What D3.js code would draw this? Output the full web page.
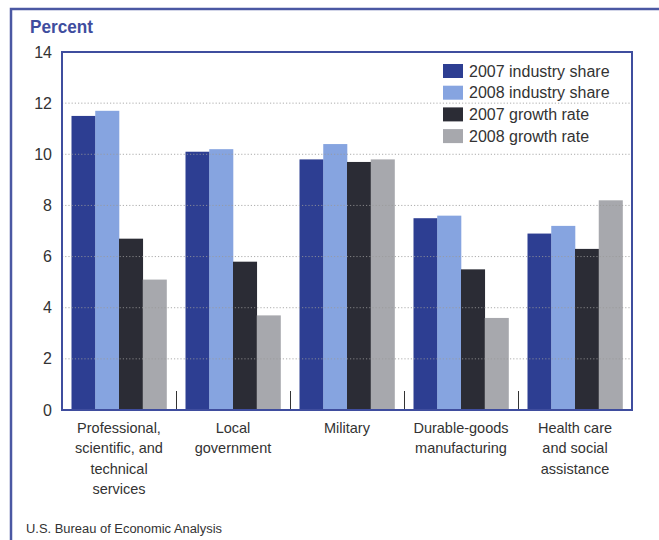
<!DOCTYPE html>
<html><head><meta charset="utf-8">
<script src="https://cdn.jsdelivr.net/npm/d3@7"></script>
<style>body{margin:0;background:#fff}svg{display:block}text{font-family:"Liberation Sans",Arial,sans-serif}</style>
</head><body>
<svg id="c" width="659" height="540"></svg>
<script>
const categories = ["Professional, scientific, and technical services","Local government","Military","Durable-goods manufacturing","Health care and social assistance"];
const categoryLines = [["Professional,","scientific, and","technical","services"],["Local","government"],["Military"],["Durable-goods","manufacturing"],["Health care","and social","assistance"]];
const seriesNames = ["2007 industry share","2008 industry share","2007 growth rate","2008 growth rate"];
const share2007 = [11.5, 10.1, 9.8, 7.5, 6.9];
const share2008 = [11.7, 10.2, 10.4, 7.6, 7.2];
const growth2007 = [6.7, 5.8, 9.7, 5.5, 6.3];
const growth2008 = [5.1, 3.7, 9.8, 3.6, 8.2];
const yTicks = [0, 2, 4, 6, 8, 10, 12, 14];
const colors = ["#2d3e92", "#86a4e0", "#2b2c35", "#a7a8ad"];

const series = [share2007, share2008, growth2007, growth2008];
const svg = d3.select("#c");
const frameColor = "#3f4d9e";
const L = 62, R = 632, T = 52, B = 410;

// outer frame
svg.append("path").attr("d", `M11,540 L11,9 L659,9`).attr("fill","none").attr("stroke","#4b58a3").attr("stroke-width",2.5);
svg.append("text").attr("x",30).attr("y",33).attr("font-size",19).attr("font-weight","bold")
  .attr("fill",frameColor).attr("textLength",63).attr("lengthAdjust","spacingAndGlyphs").text("Percent");

const y = d3.scaleLinear().domain([0,14]).range([B,T]);
const x0 = d3.scaleBand().domain(categories).range([L,R]).paddingInner(0).paddingOuter(0);
const x1 = d3.scaleBand().domain(seriesNames).range([9.5, x0.bandwidth()-9.5]).padding(0);

// bars
const g = svg.append("g");
categories.forEach((c,i)=>{
  seriesNames.forEach((s,j)=>{
    g.append("rect").attr("x", x0(c)+x1(s)).attr("y", y(series[j][i]))
      .attr("width", x1.bandwidth()+0.3).attr("height", B - y(series[j][i])).attr("fill", colors[j]);
  });
});

// gridlines
svg.append("g").selectAll("line").data(yTicks.filter(d=>d>0&&d<14)).join("line")
  .attr("x1",L).attr("x2",R).attr("y1",d=>y(d)).attr("y2",d=>y(d))
  .attr("stroke","#9a9a9a").attr("stroke-width",1).attr("stroke-dasharray","1.2,2").attr("opacity",0.8);

// y axis labels
const ya = svg.append("g").attr("transform",`translate(${L},0)`)
  .call(d3.axisLeft(y).tickValues(yTicks).tickSize(0).tickPadding(10).tickFormat(d3.format("d")));
ya.select(".domain").remove();
ya.selectAll("text").attr("font-size",16).attr("fill","#333").attr("font-family","'Liberation Sans',Arial,sans-serif");

// separators
svg.append("g").selectAll("line").data(categories.slice(1)).join("line")
  .attr("x1",d=>Math.round(x0(d))+0.5).attr("x2",d=>Math.round(x0(d))+0.5).attr("y1",391).attr("y2",B)
  .attr("stroke","#333").attr("stroke-width",1);

// plot frame
svg.append("rect").attr("x",L).attr("y",T).attr("width",R-L).attr("height",B-T)
  .attr("fill","none").attr("stroke",frameColor).attr("stroke-width",2);

// x labels
const xl = svg.append("g");
categories.forEach((c,i)=>{
  const t = xl.append("text").attr("text-anchor","middle").attr("font-size",14.5).attr("fill","#333");
  categoryLines[i].forEach((ln,k)=>{
    t.append("tspan").attr("x", x0(c)+x0.bandwidth()/2).attr("y", 433 + k*20.3).text(ln);
  });
});

// legend
const lg = svg.append("g");
seriesNames.forEach((s,j)=>{
  const cy = 71 + j*21.7;
  lg.append("rect").attr("x",443).attr("y",cy-7).attr("width",20).attr("height",14).attr("fill",colors[j]);
  lg.append("text").attr("x",469).attr("y",cy+5.5).attr("font-size",16).attr("fill","#333").text(s);
});

// footer
svg.append("text").attr("x",26).attr("y",533).attr("font-size",12.5).attr("fill","#333")
  .attr("textLength",196).attr("lengthAdjust","spacingAndGlyphs").text("U.S. Bureau of Economic Analysis");
</script>
</body></html>
